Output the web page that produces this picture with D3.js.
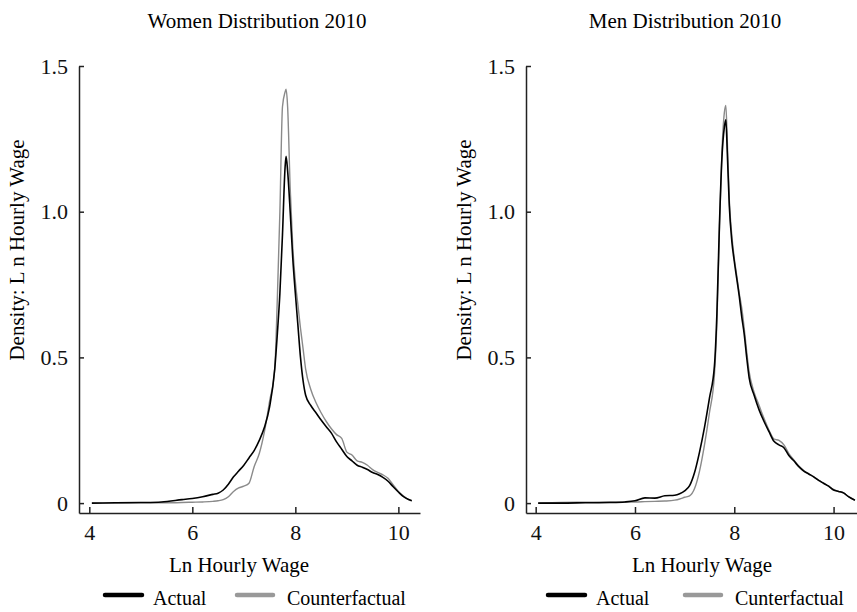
<!DOCTYPE html>
<html>
<head>
<meta charset="utf-8">
<script src="https://cdn.jsdelivr.net/npm/d3@7"></script>
<style>
    body { margin: 0; background: #fff; }
    svg { display: block; font-family: "Liberation Serif", "Times New Roman", serif; }
</style>
</head>
<body>
<svg id="chart" width="857" height="612"></svg>
<script>
// Data
const womenX = [4.05, 4.5, 5.0, 5.4, 5.8, 6.0, 6.2, 6.4, 6.5, 6.6, 6.7, 6.8, 6.9, 7.0, 7.1, 7.2, 7.3, 7.4, 7.5, 7.6,
    7.65, 7.7, 7.75, 7.8, 7.82, 7.85, 7.9, 7.95, 8.0, 8.05, 8.1, 8.15, 8.2, 8.3, 8.4, 8.5, 8.6, 8.7, 8.8, 8.9,
    9.0, 9.1, 9.2, 9.3, 9.4, 9.5, 9.6, 9.7, 9.8, 9.9, 10.0, 10.1, 10.2, 10.26];
const womenActual = [0, 0.001, 0.002, 0.004, 0.012, 0.016, 0.022, 0.030, 0.034, 0.045, 0.065, 0.09, 0.11, 0.13, 0.155, 0.18, 0.215, 0.26, 0.33, 0.46,
    0.58, 0.72, 0.92, 1.15, 1.19, 1.14, 1.0, 0.84, 0.72, 0.61, 0.5, 0.42, 0.37, 0.335, 0.31, 0.285, 0.262, 0.24, 0.21, 0.185,
    0.16, 0.145, 0.13, 0.123, 0.115, 0.105, 0.098, 0.088, 0.075, 0.056, 0.038, 0.022, 0.012, 0.008];
const womenCounter = [0, 0, 0.001, 0.001, 0.002, 0.003, 0.004, 0.006, 0.008, 0.012, 0.022, 0.04, 0.052, 0.058, 0.068, 0.125, 0.17, 0.245, 0.35, 0.46,
    0.70, 1.0, 1.36, 1.41, 1.42, 1.36, 1.08, 0.88, 0.76, 0.68, 0.6, 0.53, 0.46, 0.39, 0.345, 0.31, 0.28, 0.255, 0.235, 0.222,
    0.175, 0.165, 0.145, 0.14, 0.13, 0.115, 0.105, 0.097, 0.085, 0.062, 0.04, 0.024, 0.012, 0.008];

const menX = [4.05, 4.5, 5.0, 5.5, 5.8, 6.0, 6.2, 6.4, 6.6, 6.8, 6.9, 7.0, 7.1, 7.2, 7.3, 7.4, 7.5, 7.6, 7.65, 7.7,
    7.75, 7.8, 7.83, 7.86, 7.9, 7.95, 8.0, 8.05, 8.1, 8.15, 8.2, 8.25, 8.3, 8.4, 8.5, 8.6, 8.7, 8.8, 8.9, 9.0,
    9.1, 9.2, 9.3, 9.4, 9.5, 9.6, 9.7, 9.8, 9.9, 10.0, 10.1, 10.2, 10.3, 10.43];
const menActual = [0, 0, 0.001, 0.002, 0.004, 0.008, 0.018, 0.017, 0.025, 0.027, 0.032, 0.042, 0.06, 0.105, 0.175, 0.26, 0.36, 0.47, 0.65, 0.95,
    1.18, 1.29, 1.315, 1.2, 1.02, 0.9, 0.83, 0.77, 0.71, 0.64, 0.58, 0.5, 0.43, 0.37, 0.32, 0.28, 0.245, 0.212, 0.2, 0.19,
    0.163, 0.145, 0.125, 0.11, 0.1, 0.09, 0.078, 0.068, 0.058, 0.045, 0.04, 0.035, 0.022, 0.01];
const menCounter = [0, 0.002, 0.003, 0.004, 0.004, 0.004, 0.005, 0.006, 0.007, 0.01, 0.014, 0.02, 0.025, 0.05, 0.11, 0.2, 0.31, 0.44, 0.62, 0.93,
    1.2, 1.34, 1.365, 1.24, 1.04, 0.92, 0.84, 0.78, 0.72, 0.67, 0.6, 0.52, 0.45, 0.38, 0.335, 0.29, 0.25, 0.22, 0.215, 0.2,
    0.17, 0.148, 0.127, 0.112, 0.1, 0.09, 0.078, 0.068, 0.058, 0.047, 0.04, 0.035, 0.022, 0.01];

const xTicks = [4, 6, 8, 10];
const yTicks = [0, 0.5, 1.0, 1.5];

const svg = d3.select("#chart");

// y scale shared by both panels (x axis sits a bit below zero)
const y = d3.scaleLinear().domain([-0.034, 1.5]).range([513, 66]);

function drawPanel(p) {
    const x = d3.scaleLinear().domain(p.xDomain).range(p.xRange);
    const g = svg.append("g");

    // Axes
    const yAxis = d3.axisLeft(y)
        .tickValues(yTicks)
        .tickFormat(d => d === 0 ? "0" : d3.format(".1f")(d))
        .tickSizeInner(-5)
        .tickSizeOuter(0)
        .tickPadding(11);
    g.append("g")
        .attr("transform", `translate(${p.xRange[0]},0)`)
        .call(yAxis);

    const xAxis = d3.axisBottom(x)
        .tickValues(xTicks)
        .tickFormat(d3.format("d"))
        .tickSizeInner(-6)
        .tickSizeOuter(0)
        .tickPadding(11);
    g.append("g")
        .attr("transform", `translate(0,513)`)
        .call(xAxis);

    g.selectAll(".domain, .tick line").attr("stroke", "#222").attr("stroke-width", 1.5);
    g.selectAll(".tick text")
        .style("font-size", "22px")
        .style("font-family", "Liberation Serif, serif")
        .attr("fill", "#111");

    // Curves
    const line = d3.line()
        .x(d => x(d[0]))
        .y(d => y(d[1]))
        .curve(d3.curveMonotoneX);

    g.append("path")
        .datum(p.xs.map((v, i) => [v, p.counter[i]]))
        .attr("d", line)
        .attr("fill", "none")
        .attr("stroke", "#8a8a8a")
        .attr("stroke-width", 1.4);

    g.append("path")
        .datum(p.xs.map((v, i) => [v, p.actual[i]]))
        .attr("d", line)
        .attr("fill", "none")
        .attr("stroke", "#000")
        .attr("stroke-width", 1.6);

    // Text
    g.append("text")
        .attr("x", p.titleX).attr("y", 28)
        .attr("text-anchor", "middle")
        .style("font-size", "21px")
        .text(p.title);

    g.append("text")
        .attr("transform", `translate(${p.yLabelX},250) rotate(-90)`)
        .attr("text-anchor", "middle")
        .style("font-size", "21px")
        .text("Density: L n Hourly Wage");

    g.append("text")
        .attr("x", p.xLabelX).attr("y", 572)
        .attr("text-anchor", "middle")
        .style("font-size", "21px")
        .text("Ln Hourly Wage");

    // Legend
    const lg = g.append("g").attr("transform", `translate(${p.legendX},595)`);
    lg.append("line").attr("x1", 0).attr("x2", 37).attr("y1", 0).attr("y2", 0)
        .attr("stroke", "#000").attr("stroke-width", 4.5).attr("stroke-linecap", "round");
    lg.append("text").attr("x", 48).attr("y", 10).style("font-size", "20px").text("Actual");
    lg.append("line").attr("x1", p.legendGap).attr("x2", p.legendGap + 36).attr("y1", 0).attr("y2", 0)
        .attr("stroke", "#999").attr("stroke-width", 4.5).attr("stroke-linecap", "round");
    lg.append("text").attr("x", p.legendGap + 50).attr("y", 10).style("font-size", "20px").text(p.counterLabel);
}

drawPanel({
    title: "Women Distribution 2010",
    xs: womenX, actual: womenActual, counter: womenCounter,
    xDomain: [3.8, 10.42], xRange: [79, 420],
    titleX: 257, yLabelX: 24, xLabelX: 239,
    legendX: 105, legendGap: 132, counterLabel: "Counterfactual"
});

drawPanel({
    title: "Men Distribution 2010",
    xs: menX, actual: menActual, counter: menCounter,
    xDomain: [3.805, 10.5], xRange: [526, 858.4],
    titleX: 685, yLabelX: 471, xLabelX: 702,
    legendX: 548, legendGap: 137, counterLabel: "Cunterfactual"
});
</script>
</body>
</html>
